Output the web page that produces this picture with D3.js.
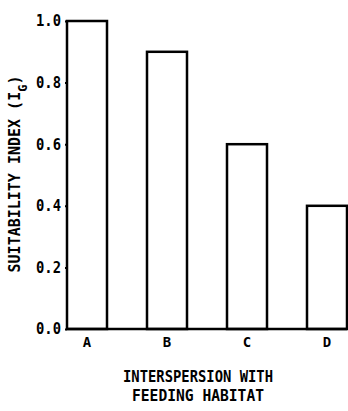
<!DOCTYPE html>
<html>
<head>
<meta charset="utf-8">
<script src="https://cdn.jsdelivr.net/npm/d3@7"></script>
<style>
  html, body { margin: 0; padding: 0; background: #fff; }
  svg { display: block; }
  text { font-family: "DejaVu Sans Mono", "Liberation Mono", monospace; font-weight: bold; fill: #000; }
</style>
</head>
<body>
<script>
const categories = ["A", "B", "C", "D"];
const values = [1.0, 0.9, 0.6, 0.4];
const yTicks = [0, 0.2, 0.4, 0.6, 0.8, 1.0];
const yTickLabels = ["0.0", "0.2", "0.4", "0.6", "0.8", "1.0"];
const xTitleLines = ["INTERSPERSION WITH", "FEEDING HABITAT"];
const yTitle = "SUITABILITY INDEX (I";
const yTitleSub = "G";

const W = 348, H = 411;
const svg = d3.select("body").append("svg").attr("width", W).attr("height", H);

const x = d3.scaleBand().domain(categories).range([67, 347]).paddingInner(0.5).paddingOuter(0);
const y = d3.scaleLinear().domain([0, 1]).range([329, 21]);

// bars
svg.selectAll("rect.bar").data(categories).enter().append("rect")
  .attr("class", "bar")
  .attr("x", d => x(d))
  .attr("y", (d, i) => y(values[i]))
  .attr("width", x.bandwidth())
  .attr("height", (d, i) => y(0) - y(values[i]))
  .attr("fill", "#fff").attr("stroke", "#000").attr("stroke-width", 2.5);

// baseline
svg.append("line").attr("x1", x.range()[0]).attr("x2", x.range()[1])
  .attr("y1", y(0)).attr("y2", y(0)).attr("stroke", "#000").attr("stroke-width", 2.5);

// y axis ticks (small) and labels
const yAxis = d3.axisLeft(y).tickValues(yTicks).tickSize(2).tickFormat((d, i) => yTickLabels[i]);
const gy = svg.append("g").attr("transform", "translate(67,0)").call(yAxis);
gy.select(".domain").remove();
gy.selectAll(".tick line").attr("stroke", "#000").attr("stroke-width", 2);
gy.selectAll(".tick text").attr("x", -6).attr("font-size", 15)
  .attr("font-family", "'DejaVu Sans Mono', monospace").attr("font-weight", "bold")
  .attr("fill", "#000").attr("textLength", 25).attr("lengthAdjust", "spacingAndGlyphs");

// x axis labels
const xAxis = d3.axisBottom(x).tickSize(0);
const gx = svg.append("g").attr("transform", `translate(0,${y(0)})`).call(xAxis);
gx.select(".domain").remove();
gx.selectAll(".tick text").attr("y", 8).attr("font-size", 14)
  .attr("font-family", "'DejaVu Sans Mono', monospace").attr("font-weight", "bold").attr("fill", "#000");

// x title
svg.selectAll("text.xtitle").data(xTitleLines).enter().append("text")
  .attr("class", "xtitle")
  .attr("x", 198).attr("y", (d, i) => 382 + i * 19)
  .attr("text-anchor", "middle").attr("font-size", 15)
  .attr("textLength", (d, i) => i === 0 ? 150 : 132)
  .attr("lengthAdjust", "spacingAndGlyphs")
  .text(d => d);

// y title
const yt = svg.append("text")
  .attr("transform", "translate(20,174) rotate(-90)")
  .attr("text-anchor", "middle").attr("font-size", 15);
yt.append("tspan").text(yTitle);
yt.append("tspan").attr("baseline-shift", "sub").attr("font-size", 12).text(yTitleSub);
yt.append("tspan").text(")");
</script>
</body>
</html>
